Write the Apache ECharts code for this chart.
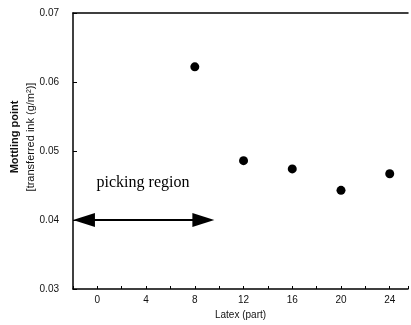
<!DOCTYPE html>
<html>
<head>
<meta charset="utf-8">
<script src="https://cdn.jsdelivr.net/npm/echarts@6/dist/echarts.min.js"></script>
<style>
  html, body { margin: 0; padding: 0; background: #fff; }
  #main { width: 411px; height: 325px; }
</style>
</head>
<body>
<div id="main"></div>
<script>
  // latex amount (part) and mottling point (g/m2)
  var latexParts = [8, 12, 16, 20, 24]
  var mottling = [0.0622, 0.0486, 0.0474, 0.0443, 0.0467]
  // picking region arrow (head centres)
  var arrowFrom = [-1.1, 0.04]
  var arrowTo = [8.7, 0.04]

  var dom = document.getElementById('main')
  var myChart = echarts.init(dom)
  var font = 'Liberation Sans'

  var option = {
    animation: false,
    grid: { left: 73, right: 0, top: 13, bottom: 32 },
    graphic: [
      {
        // y axis title, two lines
        type: 'text',
        x: 15,
        y: 137,
        rotation: Math.PI / 2,
        style: {
          text: 'Mottling point',
          align: 'center',
          verticalAlign: 'middle',
          fontSize: 11,
          fontWeight: 'bold',
          fontFamily: font,
          fill: '#111',
        },
      },
      {
        type: 'text',
        x: 31,
        y: 137,
        rotation: Math.PI / 2,
        style: {
          text: '[transferred ink (g/m²)]',
          align: 'center',
          verticalAlign: 'middle',
          fontSize: 11,
          fontFamily: font,
          fill: '#111',
        },
      },
      {
        type: 'text',
        x: 143,
        y: 183,
        style: {
          text: 'picking region',
          align: 'center',
          verticalAlign: 'middle',
          fontSize: 16,
          fontFamily: 'Liberation Serif',
          fill: '#000',
        },
      },
    ],
    xAxis: [
      {
        type: 'value',
        min: -2,
        max: 25.5,
        interval: 2,
        name: 'Latex (part)',
        nameLocation: 'middle',
        nameGap: 21,
        nameTextStyle: { fontSize: 10, fontFamily: font, color: '#111' },
        axisLine: { onZero: false, lineStyle: { color: '#000', width: 1.5 } },
        axisTick: { inside: true, length: 3, lineStyle: { color: '#000' } },
        axisLabel: {
          margin: 6,
          fontSize: 10,
          fontFamily: font,
          color: '#111',
          formatter: function (v) {
            return v >= 0 && v % 4 === 0 ? String(v) : ''
          },
        },
        splitLine: { show: false },
      },
      {
        // top frame line
        type: 'value',
        position: 'top',
        min: -2,
        max: 25.5,
        axisLine: { show: true, onZero: false, lineStyle: { color: '#000', width: 1.5 } },
        axisTick: { show: false },
        axisLabel: { show: false },
        splitLine: { show: false },
      },
    ],
    yAxis: {
      type: 'value',
      min: 0.03,
      max: 0.07,
      interval: 0.01,
      axisLine: { show: true, onZero: false, lineStyle: { color: '#000', width: 1.5 } },
      axisTick: { show: true, inside: true, length: 4, lineStyle: { color: '#000' } },
      axisLabel: {
        margin: 14,
        fontSize: 10,
        fontFamily: font,
        color: '#111',
        formatter: function (v) {
          return v.toFixed(2)
        },
      },
      splitLine: { show: false },
    },
    series: [
      {
        type: 'scatter',
        symbol: 'circle',
        symbolSize: 9,
        itemStyle: { color: '#000', opacity: 1 },
        data: latexParts.map(function (x, i) {
          return [x, mottling[i]]
        }),
        markLine: {
          silent: true,
          symbol: ['triangle', 'triangle'],
          symbolSize: [14, 22],
          label: { show: false },
          lineStyle: { color: '#000', width: 2, type: 'solid', opacity: 1 },
          data: [[{ coord: arrowFrom }, { coord: arrowTo }]],
        },
      },
    ],
  }
  myChart.setOption(option)
</script>
</body>
</html>
